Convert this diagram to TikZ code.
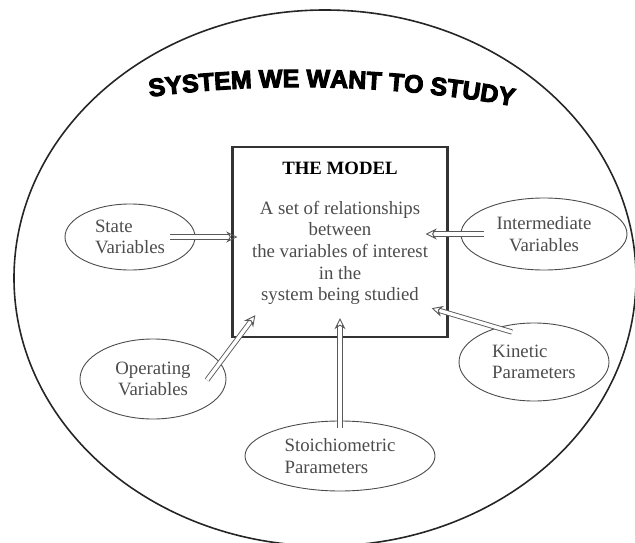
\documentclass[tikz,border=0pt]{standalone}
\usepackage{fontspec}
\setmainfont{Liberation Serif}
\newfontfamily\bannerfont{Liberation Sans Bold}[FakeBold=4]
\usetikzlibrary{arrows.meta,shapes.geometric,decorations.text}

\begin{document}
\begin{tikzpicture}[
  x=1pt, y=-1pt,
  every node/.style={font=\fontsize{18.8}{21.7}\selectfont, text=black!70},
  factor/.style={ellipse, draw=black!70, line width=0.9pt, inner sep=0pt},
  modelbox/.style={draw=black!80, line width=2.4pt, minimum width=215pt,
                   minimum height=190pt, inner sep=0pt},
  feed/.style={draw=black!65, double=white, double distance=3.4pt,
               line width=0.9pt, -{Stealth[open, length=11pt, width=11pt]}}
]
  \useasboundingbox (0,0) rectangle (635,543);
  \clip (0,0) rectangle (635,543);

  % the system boundary and its banner
  \draw[line width=1.6pt, black!85] (325,278) ellipse [x radius=311pt, y radius=268pt];
  \path[decorate, decoration={text along path, text align=center, text color=black,
        text={|\bannerfont\fontsize{25}{25}\selectfont|SYSTEM WE WANT TO STUDY}}]
    (135,99) .. controls (260,80) and (400,84) .. (528,109);

  % the model in the middle
  \node[modelbox] (model) at (340,242) {};
  \node[font=\bfseries\fontsize{18.8}{21.7}\selectfont, text=black] (modeltitle) at (340,168) {THE MODEL};
  \node[align=center] (relations) at (340,253)
    {A set of relationships\\between\\the variables of interest\\in the\\system being studied};

  % inputs around it
  \node[factor, minimum width=130pt, minimum height=66pt, align=left] (state) at (130,237) {State\\Variables};
  \node[factor, minimum width=166pt, minimum height=72pt, align=center] (inter) at (544,234) {Intermediate\\Variables};
  \node[factor, minimum width=146pt, minimum height=80pt, align=center] (oper) at (153,379) {Operating\\Variables};
  \node[factor, minimum width=150pt, minimum height=78pt, align=left] (kin) at (534,362) {Kinetic\\Parameters};
  \node[factor, minimum width=190pt, minimum height=70pt, align=left] (stoich) at (340,456) {Stoichiometric\\Parameters};

  \draw[feed, shorten <=40pt, shorten >=-6pt] (state.center) -- (state.center -| model.west);
  \draw[feed, shorten <=60pt, shorten >=-23pt] (inter.center) -- (inter.center -| model.east);
  \draw[feed] ([shift={(-22,-30)}]kin.center) -- ([shift={(-17,-30)}]model.south east);
  \draw[feed] ([shift={(54,1)}]oper.center) -- ([shift={(24,-23)}]model.south west);
  \draw[feed, shorten <=-7pt, shorten >=-20pt] (stoich.north) -- (model.south);
\end{tikzpicture}
\end{document}
